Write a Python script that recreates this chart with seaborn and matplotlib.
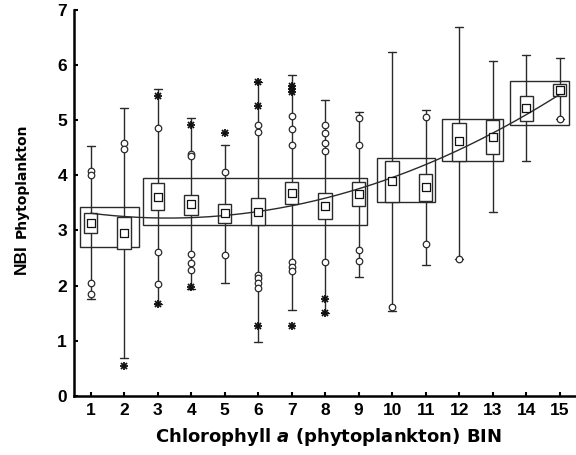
import numpy as np
import pandas as pd
import matplotlib
matplotlib.use("Agg")
import matplotlib.pyplot as plt
from matplotlib.patches import Rectangle
import seaborn as sns

# ---- data ----
bins = list(range(1, 16))
medians = [3.13, 2.95, 3.61, 3.48, 3.31, 3.33, 3.68, 3.44, 3.66, 3.89, 3.78, 4.61, 4.70, 5.22, 5.55]
box_low = [2.95, 2.66, 3.37, 3.28, 3.13, 3.09, 3.48, 3.20, 3.44, 3.51, 3.54, 4.25, 4.38, 4.99, 5.44]
box_high = [3.31, 3.24, 3.85, 3.64, 3.48, 3.58, 3.88, 3.67, 3.87, 4.26, 4.02, 4.95, 5.00, 5.43, 5.65]
whisk_low = [1.76, 0.69, 1.67, 1.93, 2.05, 0.97, 1.55, 1.50, 2.16, 1.54, 2.37, 2.48, 3.33, 4.25, 5.02]
whisk_high = [4.53, 5.21, 5.56, 5.03, 4.55, 5.68, 5.82, 5.37, 5.15, 6.24, 5.18, 6.69, 6.06, 6.18, 6.13]
outliers = [
    [4.08, 4.00, 2.04, 1.84],
    [4.59, 4.47],
    [4.85, 2.61, 2.02],
    [4.38, 4.35, 2.57, 2.40, 2.29],
    [4.06, 2.55],
    [4.91, 4.78, 2.19, 2.13, 2.05, 1.96],
    [5.07, 4.83, 4.55, 2.43, 2.34, 2.26],
    [4.90, 4.77, 4.59, 4.44, 2.43],
    [5.04, 4.55, 2.65, 2.45],
    [1.62],
    [5.06, 2.75],
    [2.48],
    [],
    [],
    [5.02],
]
extremes = [
    [], [0.55], [5.43, 1.67], [4.90, 1.98], [4.77], [5.68, 5.25, 1.27],
    [5.61, 5.56, 5.50, 1.27], [1.75, 1.50], [], [], [], [], [], [], [],
]
# group boxes (BIN range, NBI range)
group_x0 = [0.68, 2.57, 9.56, 11.50, 13.52]
group_x1 = [2.45, 9.24, 11.28, 13.30, 15.27]
group_y0 = [2.69, 3.09, 3.51, 4.25, 4.90]
group_y1 = [3.42, 3.94, 4.32, 5.02, 5.71]

xtick_labels = [str(b) for b in bins]
yticks = list(range(0, 8))

# ---- styling ----
sns.set_style("ticks")
plt.rcParams['font.family'] = ['Liberation Sans', 'DejaVu Sans']
plt.rcParams['font.weight'] = 'bold'
plt.rcParams['mathtext.fontset'] = 'custom'
plt.rcParams['mathtext.it'] = 'DejaVu Sans:italic:bold'
plt.rcParams['mathtext.rm'] = 'DejaVu Sans:bold'
plt.rcParams['mathtext.bf'] = 'DejaVu Sans:bold'
for k in ['text.color', 'xtick.color', 'ytick.color', 'axes.edgecolor', 'axes.labelcolor']:
    plt.rcParams[k] = 'black'

LC = '#2a2a2a'
fig = plt.figure(figsize=(5.76, 4.55), dpi=100)
ax = fig.add_axes([0.1283, 0.1297, 0.8725, 0.8493])

# group boxes
for x0, x1, y0, y1 in zip(group_x0, group_x1, group_y0, group_y1):
    ax.add_patch(Rectangle((x0, y0), x1 - x0, y1 - y0, fill=False, ec=LC, lw=1.0, zorder=2))

# whiskers and caps
bw, cw = 0.40, 0.24
for b, lo, hi in zip(bins, whisk_low, whisk_high):
    ax.plot([b, b], [lo, hi], color=LC, lw=1.0, zorder=3)
    ax.plot([b - cw / 2, b + cw / 2], [hi, hi], color=LC, lw=1.0, zorder=3)
    ax.plot([b - cw / 2, b + cw / 2], [lo, lo], color=LC, lw=1.0, zorder=3)

# individual boxes
for b, lo, hi in zip(bins, box_low, box_high):
    ax.add_patch(Rectangle((b - bw / 2, lo), bw, hi - lo, fc='white', ec=LC, lw=1.0, zorder=4))

# trend curve (quadratic fit through the medians)
coef = np.polyfit(bins, medians, 2)
xs = np.linspace(1, 15, 200)
curve = pd.DataFrame({'x': xs, 'y': np.polyval(coef, xs)})
sns.lineplot(data=curve, x='x', y='y', ax=ax, color=LC, lw=1.0, zorder=5)

# outliers
out_df = pd.DataFrame([(b, v) for b, vals in zip(bins, outliers) for v in vals], columns=['bin', 'v'])
sns.scatterplot(data=out_df, x='bin', y='v', ax=ax, marker='o', s=22, facecolor='white',
                edgecolor=LC, linewidth=0.9, zorder=6)
ext_df = pd.DataFrame([(b, v) for b, vals in zip(bins, extremes) for v in vals], columns=['bin', 'v'])
ax.plot(ext_df['bin'], ext_df['v'], ls='none', marker='+', ms=6, mew=1.3, color='#111111', zorder=6)
ax.plot(ext_df['bin'], ext_df['v'], ls='none', marker='x', ms=4.5, mew=1.3, color='#111111', zorder=6)

# medians
med_df = pd.DataFrame({'bin': bins, 'm': medians})
sns.scatterplot(data=med_df, x='bin', y='m', ax=ax, marker='s', s=26, facecolor='white',
                edgecolor='#111111', linewidth=0.9, zorder=7)

ax.set_xlim(0.5, 15.5)
ax.set_ylim(0, 7)
ax.set_xticks(bins)
ax.set_xticklabels(xtick_labels)
ax.set_yticks(yticks)
ax.tick_params(direction='in', length=3, width=1.5, labelsize=12.5, pad=5, colors='black')
for s in ['top', 'right']:
    ax.spines[s].set_visible(False)
for s in ['left', 'bottom']:
    ax.spines[s].set_linewidth(1.8)
    ax.spines[s].set_color('black')
ax.set_xlabel('')
ax.set_ylabel('')
for lab in ax.get_xticklabels() + ax.get_yticklabels():
    lab.set_fontweight('bold')

fig.text(328 / 576, (455 - 437) / 455, 'Chlorophyll $a$ (phytoplankton) BIN', ha='center', va='center',
         fontsize=13, fontweight='bold', family=['DejaVu Sans'])
fig.text(26 / 576, (455 - 259) / 455, 'NBI', rotation=90, rotation_mode='anchor', ha='center',
         va='baseline', fontsize=12.5, fontweight='bold')
fig.text(26 / 576, (455 - 181) / 455, 'Phytoplankton', rotation=90, rotation_mode='anchor', ha='center',
         va='baseline', fontsize=10, fontweight='bold', family=['DejaVu Sans'])

fig.savefig('out.png', dpi=100)
